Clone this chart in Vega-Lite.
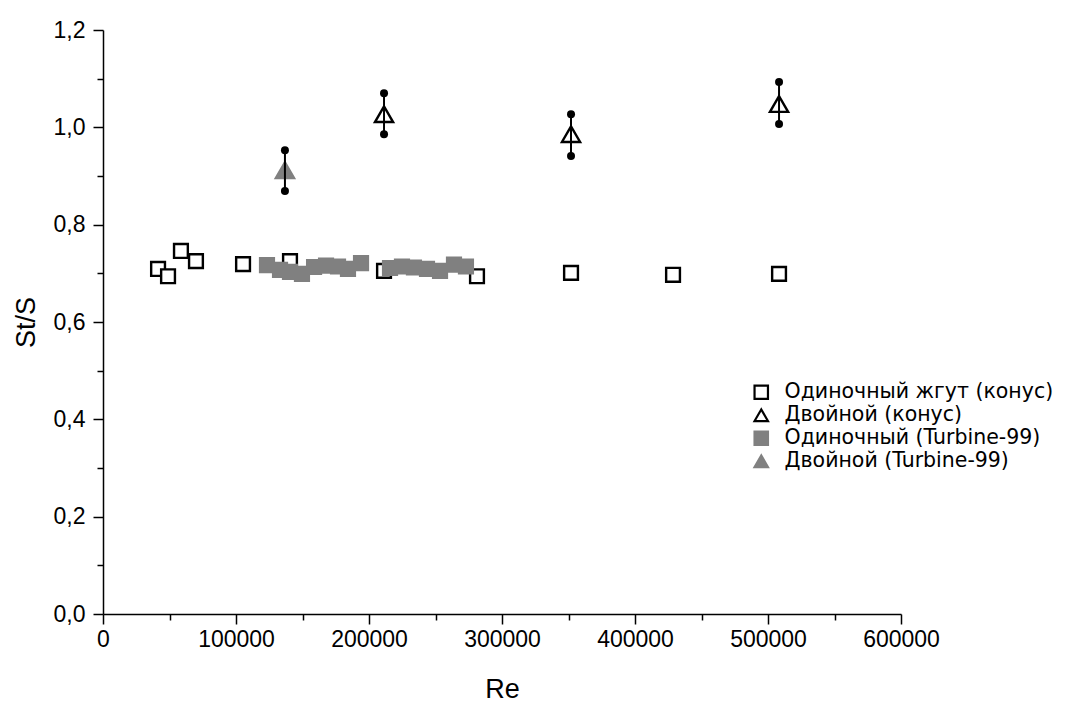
{
  "$schema": "https://vega.github.io/schema/vega-lite/v6.json",
  "autosize": "none",
  "width": 798,
  "height": 584,
  "padding": {"left": 103, "top": 30, "right": 182, "bottom": 90},
  "background": "white",
  "config": {
    "view": {"stroke": null},
    "axis": {
      "domainColor": "black",
      "domainWidth": 1.5,
      "tickColor": "black",
      "tickWidth": 1.5,
      "grid": false,
      "labelFont": "Liberation Sans",
      "labelFontSize": 23,
      "labelColor": "black",
      "labelFlush": false,
      "labelOverlap": false,
      "titleFont": "Liberation Sans",
      "titleFontSize": 27,
      "titleFontWeight": "normal",
      "titleColor": "black"
    },
    "legend": {
      "labelFont": "DejaVu Sans",
      "labelFontSize": 20.5,
      "labelColor": "black",
      "labelOffset": 13,
      "labelLimit": 500,
      "rowPadding": 1,
      "symbolSize": 180,
      "symbolStrokeWidth": 2.2,
      "padding": 0
    }
  },
  "datasets": {
    "sq": [
      {"Re": 41400, "St": 0.709, "series": "Одиночный жгут (конус)"},
      {"Re": 48900, "St": 0.694, "series": "Одиночный жгут (конус)"},
      {"Re": 58600, "St": 0.746, "series": "Одиночный жгут (конус)"},
      {"Re": 69900, "St": 0.725, "series": "Одиночный жгут (конус)"},
      {"Re": 105300, "St": 0.719, "series": "Одиночный жгут (конус)"},
      {"Re": 140600, "St": 0.725, "series": "Одиночный жгут (конус)"},
      {"Re": 211300, "St": 0.705, "series": "Одиночный жгут (конус)"},
      {"Re": 281200, "St": 0.694, "series": "Одиночный жгут (конус)"},
      {"Re": 351900, "St": 0.701, "series": "Одиночный жгут (конус)"},
      {"Re": 428600, "St": 0.697, "series": "Одиночный жгут (конус)"},
      {"Re": 508300, "St": 0.699, "series": "Одиночный жгут (конус)"},
      {"Re": 123300, "St": 0.717, "series": "Одиночный (Turbine-99)"},
      {"Re": 133100, "St": 0.707, "series": "Одиночный (Turbine-99)"},
      {"Re": 140600, "St": 0.703, "series": "Одиночный (Turbine-99)"},
      {"Re": 149600, "St": 0.699, "series": "Одиночный (Turbine-99)"},
      {"Re": 158700, "St": 0.713, "series": "Одиночный (Turbine-99)"},
      {"Re": 167700, "St": 0.716, "series": "Одиночный (Turbine-99)"},
      {"Re": 176700, "St": 0.714, "series": "Одиночный (Turbine-99)"},
      {"Re": 184200, "St": 0.709, "series": "Одиночный (Turbine-99)"},
      {"Re": 194000, "St": 0.721, "series": "Одиночный (Turbine-99)"},
      {"Re": 215800, "St": 0.711, "series": "Одиночный (Turbine-99)"},
      {"Re": 224800, "St": 0.714, "series": "Одиночный (Turbine-99)"},
      {"Re": 233800, "St": 0.712, "series": "Одиночный (Turbine-99)"},
      {"Re": 243600, "St": 0.709, "series": "Одиночный (Turbine-99)"},
      {"Re": 253400, "St": 0.705, "series": "Одиночный (Turbine-99)"},
      {"Re": 263900, "St": 0.718, "series": "Одиночный (Turbine-99)"},
      {"Re": 272900, "St": 0.714, "series": "Одиночный (Turbine-99)"}
    ],
    "tri": [
      {"Re": 136800, "St": 0.912, "series": "Двойной (Turbine-99)"},
      {"Re": 211300, "St": 1.027, "series": "Двойной (конус)"},
      {"Re": 351900, "St": 0.986, "series": "Двойной (конус)"},
      {"Re": 508300, "St": 1.048, "series": "Двойной (конус)"}
    ],
    "err": [
      {"Re": 136800, "lo": 0.869, "hi": 0.953},
      {"Re": 211300, "lo": 0.986, "hi": 1.070},
      {"Re": 351900, "lo": 0.941, "hi": 1.027},
      {"Re": 508300, "lo": 1.007, "hi": 1.093}
    ],
    "ends": [
      {"Re": 136800, "v": 0.869},
      {"Re": 136800, "v": 0.953},
      {"Re": 211300, "v": 0.986},
      {"Re": 211300, "v": 1.070},
      {"Re": 351900, "v": 0.941},
      {"Re": 351900, "v": 1.027},
      {"Re": 508300, "v": 1.007},
      {"Re": 508300, "v": 1.093}
    ]
  },
  "encoding": {
    "x": {
      "field": "Re", "type": "quantitative",
      "scale": {"domain": [0, 600000], "nice": false, "zero": false},
      "axis": {
        "title": "Re",
        "values": [0, 50000, 100000, 150000, 200000, 250000, 300000, 350000, 400000, 450000, 500000, 550000, 600000],
        "labelExpr": "datum.value % 100000 === 0 ? format(datum.value, 'd') : ''",
        "tickSize": {"condition": {"test": "datum.value % 100000 === 0", "value": 10}, "value": 6},
        "labelPadding": 4,
        "titlePadding": 25
      }
    }
  },
  "layer": [
    {
      "data": {"name": "sq"},
      "mark": {"type": "point", "size": 190, "strokeWidth": 2.4, "opacity": 1, "filled": false},
      "encoding": {
        "y": {
          "field": "St", "type": "quantitative",
          "scale": {"domain": [0, 1.2], "nice": false, "zero": false},
          "axis": {
            "title": "St/S",
            "values": [0, 0.1, 0.2, 0.3, 0.4, 0.5, 0.6, 0.7, 0.8, 0.9, 1.0, 1.1, 1.2],
            "labelExpr": "round(datum.value * 10) % 2 === 0 ? replace(format(datum.value, '.1f'), '.', ',') : ''",
            "tickSize": {"condition": {"test": "round(datum.value * 10) % 2 === 0", "value": 10}, "value": 6},
            "labelPadding": 8,
            "titlePadding": 13
          }
        },
        "shape": {
          "field": "series", "type": "nominal",
          "scale": {
            "domain": ["Одиночный жгут (конус)", "Двойной (конус)", "Одиночный (Turbine-99)", "Двойной (Turbine-99)"],
            "range": ["square", "triangle-up", "square", "triangle-up"]
          },
          "legend": {"title": null, "orient": "none", "legendX": 648, "legendY": 352}
        },
        "fill": {
          "field": "series", "type": "nominal",
          "scale": {
            "domain": ["Одиночный жгут (конус)", "Двойной (конус)", "Одиночный (Turbine-99)", "Двойной (Turbine-99)"],
            "range": ["white", "white", "#808080", "#808080"]
          },
          "legend": {"title": null, "orient": "none", "legendX": 648, "legendY": 352}
        },
        "stroke": {
          "field": "series", "type": "nominal",
          "scale": {
            "domain": ["Одиночный жгут (конус)", "Двойной (конус)", "Одиночный (Turbine-99)", "Двойной (Turbine-99)"],
            "range": ["black", "black", "#808080", "#808080"]
          },
          "legend": {"title": null, "orient": "none", "legendX": 648, "legendY": 352}
        }
      }
    },
    {
      "data": {"name": "tri"},
      "mark": {"type": "point", "size": 330, "strokeWidth": 2.4, "opacity": 1, "filled": false},
      "encoding": {
        "y": {"field": "St", "type": "quantitative"},
        "shape": {"field": "series", "type": "nominal"},
        "fill": {"field": "series", "type": "nominal"},
        "stroke": {"field": "series", "type": "nominal"}
      }
    },
    {
      "data": {"name": "err"},
      "mark": {"type": "rule", "color": "black", "strokeWidth": 2},
      "encoding": {
        "y": {"field": "lo", "type": "quantitative"},
        "y2": {"field": "hi"}
      }
    },
    {
      "data": {"name": "ends"},
      "mark": {"type": "circle", "color": "black", "size": 64, "opacity": 1},
      "encoding": {
        "y": {"field": "v", "type": "quantitative"}
      }
    }
  ]
}
